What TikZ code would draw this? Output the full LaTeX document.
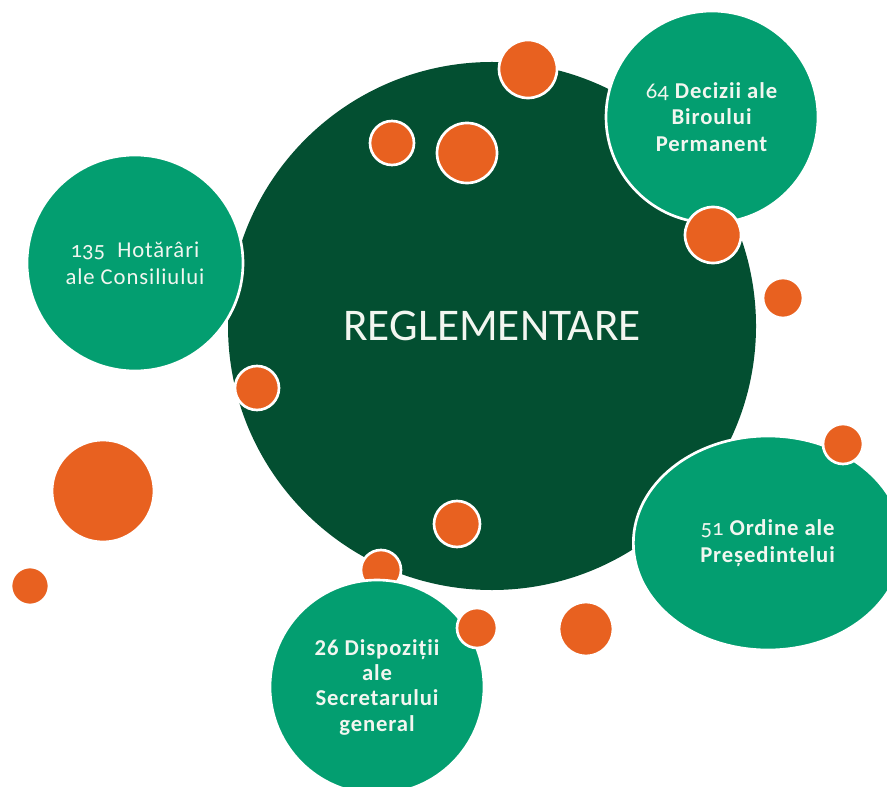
\documentclass[tikz,border=0pt]{standalone}
\usepackage{fontspec}
\setmainfont{Carlito}
\newfontfamily\oldnum{Carlito}[Numbers=OldStyle]
\usetikzlibrary{shapes.geometric}
\definecolor{bgdark}{RGB}{3,79,49}
\definecolor{bubgreen}{RGB}{3,158,112}
\definecolor{dotorange}{RGB}{232,97,32}
\definecolor{txtwhite}{RGB}{242,246,240}

\begin{document}
\begin{tikzpicture}[x=0.75pt,y=-0.75pt,
  dot/.style={circle,fill=dotorange,draw=white,line width=2pt,inner sep=0pt,minimum size=#1*1.5pt},
  bub/.style={circle,fill=bubgreen,draw=white,line width=2pt,inner sep=0pt,minimum size=#1*1.5pt,text=txtwhite,align=center},
  txt/.style={font=\fontsize{17}{20}\selectfont\addfontfeatures{LetterSpace=4}}]

\useasboundingbox[fill=white] (0,0) rectangle (887,787);

% big circle
\node[circle,fill=bgdark,inner sep=0pt,minimum size=396pt,text=txtwhite,font=\fontsize{34}{38}\selectfont] (regl) at (492,326) {REGLEMENTARE};

% dot hidden behind the bottom circle
\node[dot=20] (d1) at (381,570) {};

% the four bubbles
\node[bub=108,txt] (hot) at (135,263) {{\oldnum 135}\ \ Hotărâri\\ale Consiliului};
\node[bub=106,txt] (dec) at (712,117) {{\oldnum 64} \textbf{Decizii ale}\\\textbf{Biroului}\\\textbf{Permanent}};
\node[bub=107,ellipse,minimum width=202pt,txt] (ord) at (768,543) {{\oldnum 51} \textbf{Ordine ale}\\\textbf{Președintelui}};
\node[bub=107,txt,font=\fontsize{17}{19}\selectfont\bfseries\addfontfeatures{LetterSpace=4}] (disp) at (377,687) {26 Dispoziții\\ale\\Secretarului\\general};

% orange dots
\node[dot=29] (d2) at (528,69) {};
\node[dot=22] (d3) at (392,143) {};
\node[dot=30] (d4) at (467,153) {};
\node[dot=28] (d5) at (713,235) {};
\node[dot=20] (d6) at (783,298) {};
\node[dot=22] (d7) at (257,388) {};
\node[dot=51] (d8) at (103,491) {};
\node[dot=19] (d9) at (30,586) {};
\node[dot=23] (d10) at (457,524) {};
\node[dot=20] (d11) at (477,628) {};
\node[dot=27] (d12) at (586,629) {};
\node[dot=20] (d13) at (843,444) {};

\end{tikzpicture}
\end{document}
